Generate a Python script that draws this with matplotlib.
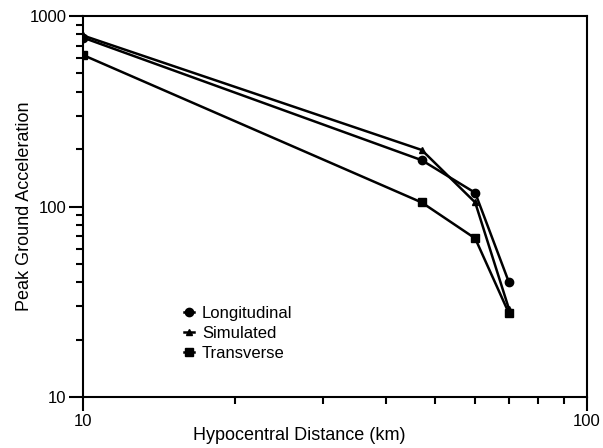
import matplotlib
matplotlib.use("Agg")
import matplotlib.pyplot as plt

plt.rcParams['font.family'] = ['Liberation Sans', 'DejaVu Sans']

# hypocentral distance (km)
distance = [10, 47, 60, 70]

# peak ground acceleration for each record
longitudinal = [770, 175, 118, 40]
simulated = [790, 198, 105, 29]
transverse = [624, 105, 68, 27.5]

fig = plt.figure(figsize=(6.03, 4.48), dpi=100)
ax = fig.add_axes([0.1376, 0.1138, 0.8359, 0.8505])

ax.plot(distance, longitudinal, color='black', lw=1.8, marker='o', ms=6, label='Longitudinal')
ax.plot(distance, simulated, color='black', lw=1.8, marker='^', ms=4, label='Simulated')
ax.plot(distance, transverse, color='black', lw=1.8, marker='s', ms=6, label='Transverse')

ax.set_xscale('log')
ax.set_yscale('log')
ax.set_xlim(10, 100)
ax.set_ylim(10, 1000)

ax.set_xticks([10, 100])
ax.set_xticklabels(['10', '100'])
ax.set_yticks([10, 100, 1000])
ax.set_yticklabels(['10', '100', '1000'])

ax.tick_params(which='major', length=10, width=1.5, labelsize=12, color='black', pad=2)
ax.tick_params(which='minor', length=5, width=1.5)
ax.tick_params(top=False, right=False, which='both')
ax.xaxis.set_minor_formatter(matplotlib.ticker.NullFormatter())
ax.yaxis.set_minor_formatter(matplotlib.ticker.NullFormatter())

for s in ax.spines.values():
    s.set_linewidth(1.5)

ax.set_xlabel('Hypocentral Distance (km)', fontsize=13)
ax.set_ylabel('Peak Ground Acceleration', fontsize=13)
ax.xaxis.set_label_coords(0.43, -0.08)
ax.yaxis.set_label_coords(-0.1, 0.5)

ax.legend(loc='lower left', bbox_to_anchor=(0.17, 0.055), frameon=False,
          fontsize=12, handlelength=0.6, handletextpad=0.5, labelspacing=0.3)

fig.savefig('out.png', dpi=100)
